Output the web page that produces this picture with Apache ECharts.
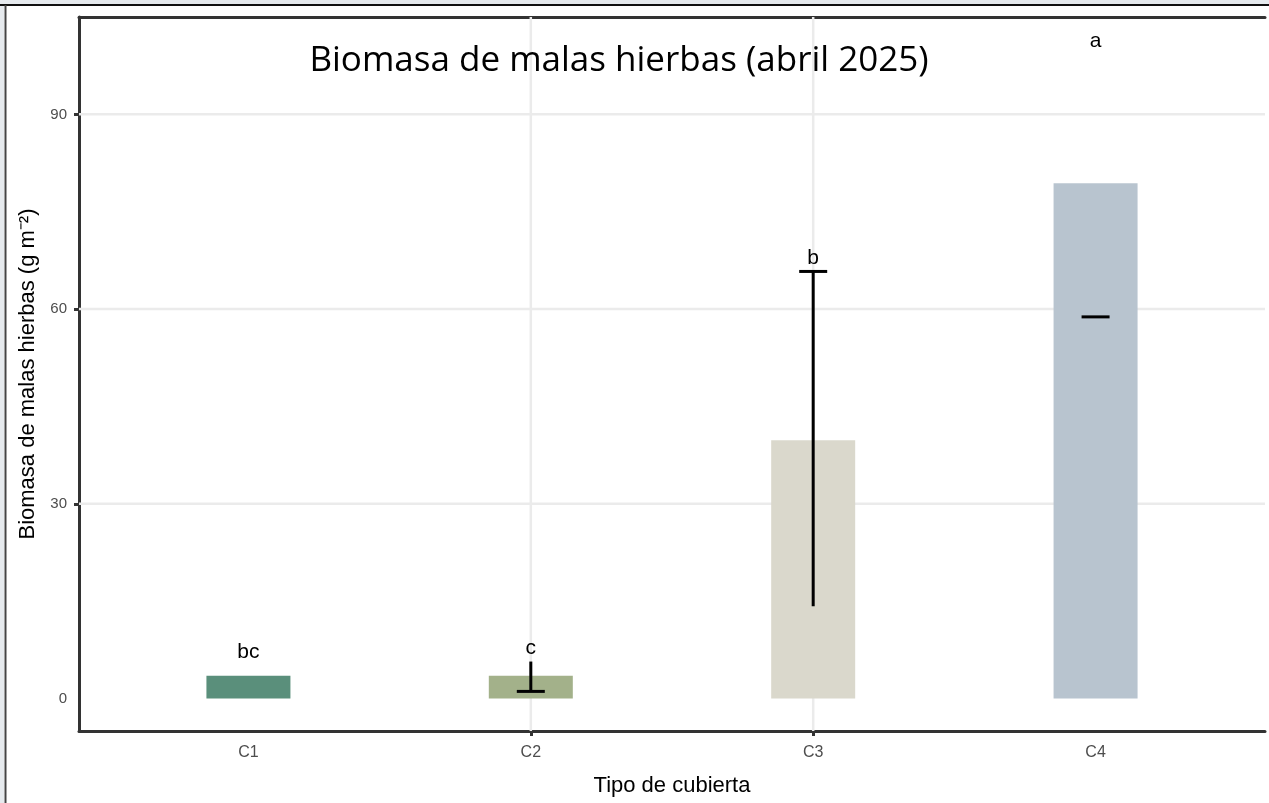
<!DOCTYPE html>
<html>
<head>
<meta charset="utf-8">
<script src="https://cdn.jsdelivr.net/npm/echarts@6/dist/echarts.min.js"></script>
<style>
  html, body { margin: 0; padding: 0; background: #fff; }
  #chart { width: 1269px; height: 803px; }
</style>
</head>
<body>
<div id="chart"></div>
<script>
// datos
var categories = ['C1', 'C2', 'C3', 'C4'];
var biomass = [3.5, 3.5, 39.8, 79.4];
var barColors = ['#5a8f7b', '#a3b18a', '#dad8cc', '#b8c4cf'];
// barras de error (como aparecen dibujadas)
var errIdx = [1, 2, 3];
var errLow = [1.1, 14.2, 58.8];
var errHigh = [5.7, 65.8, 58.8];
var errCap = [1.1, 65.8, 58.8];
// letras de significancia
var letters = ['bc', 'c', 'b', 'a'];
var letterY = [7.1, 7.7, 67.8, 101.3];
var yTicks = [0, 30, 60, 90];
var yGrid = [30, 60, 90];
var xGrid = [2, 3];

var myChart = echarts.init(document.getElementById('chart'));

var barData = biomass.map(function (v, i) {
  return { value: [i + 1, v], itemStyle: { color: barColors[i] } };
});
var errData = errIdx.map(function (k, i) {
  return [k + 1, errLow[i], errHigh[i], errCap[i]];
});
var letterData = letters.map(function (l, i) {
  return [i + 1, letterY[i]];
});
// cuadricula: [valor, 0 = horizontal / 1 = vertical]
var gridData = yGrid.map(function (v) { return [v, 0]; })
  .concat(xGrid.map(function (v) { return [v, 1]; }));

var option = {
  animation: false,
  backgroundColor: '#fff',
  title: {
    text: 'Biomasa de malas hierbas (abril 2025)',
    left: 614,
    top: 39,
    textAlign: 'center',
    textStyle: { fontFamily: 'Open Sans', fontSize: 35, fontWeight: 'normal', color: '#000' }
  },
  graphic: [
    { type: 'rect', shape: { x: 0, y: 0, width: 1269, height: 4 }, style: { fill: '#e6eaee' }, silent: true },
    { type: 'rect', shape: { x: 0, y: 0, width: 4, height: 803 }, style: { fill: '#e6eaee' }, silent: true },
    { type: 'line', shape: { x1: 0, y1: 5, x2: 1269, y2: 5 }, style: { stroke: '#111', lineWidth: 2 }, silent: true },
    { type: 'line', shape: { x1: 5.5, y1: 5, x2: 5.5, y2: 803 }, style: { stroke: '#444', lineWidth: 2 }, silent: true }
  ],
  grid: { left: 79, right: 4, top: 17, bottom: 72 },
  xAxis: [{
    type: 'value',
    min: 0.4,
    max: 4.6,
    name: 'Tipo de cubierta',
    nameLocation: 'middle',
    nameGap: 44,
    nameTextStyle: { fontFamily: 'Liberation Sans', fontSize: 22, color: '#000' },
    axisLine: { show: true, onZero: false, lineStyle: { color: '#333', width: 3 } },
    axisTick: { show: true, customValues: xGrid, length: 5, lineStyle: { color: '#333', width: 3 } },
    axisLabel: {
      customValues: [1, 2, 3, 4],
      margin: 14,
      fontFamily: 'Liberation Sans',
      fontSize: 16,
      color: '#4d4d4d',
      formatter: function (v) { return categories[Math.round(v) - 1]; }
    },
    splitLine: { show: false }
  }, {
    type: 'value',
    position: 'top',
    min: 0.4,
    max: 4.6,
    axisLine: { show: true, onZero: false, lineStyle: { color: '#333', width: 3 } },
    axisTick: { show: false },
    axisLabel: { show: false },
    splitLine: { show: false }
  }],
  yAxis: {
    type: 'value',
    min: -5,
    max: 105,
    name: 'Biomasa de malas hierbas (g m\u207B\u00B2)',
    nameLocation: 'middle',
    nameGap: 38,
    nameTextStyle: { fontFamily: 'Liberation Sans', fontSize: 22, color: '#000' },
    axisLine: { show: true, onZero: false, lineStyle: { color: '#333', width: 3 } },
    axisTick: { show: true, customValues: yGrid, length: 5, lineStyle: { color: '#333', width: 3 } },
    axisLabel: {
      customValues: yTicks,
      margin: 12,
      fontFamily: 'Liberation Sans',
      fontSize: 15,
      color: '#4d4d4d'
    },
    splitLine: { show: false }
  },
  series: [
    {
      // lineas de la cuadricula, debajo de las barras
      type: 'custom',
      z: 1,
      silent: true,
      data: gridData,
      renderItem: function (params, api) {
        var v = api.value(0);
        var cs = params.coordSys;
        var shape;
        if (api.value(1) === 0) {
          var py = api.coord([1, v])[1];
          shape = { x1: cs.x, y1: py, x2: cs.x + cs.width, y2: py };
        } else {
          var px = api.coord([v, 0])[0];
          shape = { x1: px, y1: cs.y, x2: px, y2: cs.y + cs.height };
        }
        return { type: 'line', shape: shape, style: { stroke: '#ebebeb', lineWidth: 2.5 } };
      }
    },
    {
      type: 'bar',
      data: barData,
      barWidth: 84,
      z: 2
    },
    {
      type: 'custom',
      z: 3,
      data: errData,
      renderItem: function (params, api) {
        var x = api.value(0);
        var pLo = api.coord([x, api.value(1)]);
        var pHi = api.coord([x, api.value(2)]);
        var pCap = api.coord([x, api.value(3)]);
        var children = [
          { type: 'line', shape: { x1: pCap[0] - 14, y1: pCap[1], x2: pCap[0] + 14, y2: pCap[1] },
            style: { stroke: '#000', lineWidth: 3 } }
        ];
        if (pLo[1] - pHi[1] > 1) {
          children.push({ type: 'rect', shape: { x: pLo[0] - 1.5, y: pHi[1], width: 3, height: pLo[1] - pHi[1] },
            style: { fill: '#000' } });
        }
        return { type: 'group', children: children };
      }
    },
    {
      type: 'custom',
      z: 4,
      data: letterData,
      renderItem: function (params, api) {
        var p = api.coord([api.value(0), api.value(1)]);
        return {
          type: 'text',
          x: p[0],
          y: p[1],
          style: {
            text: letters[params.dataIndex],
            fontFamily: 'Liberation Sans',
            fontSize: 21,
            fill: '#000',
            align: 'center',
            verticalAlign: 'middle'
          }
        };
      }
    }
  ]
};

myChart.setOption(option);
</script>
</body>
</html>
